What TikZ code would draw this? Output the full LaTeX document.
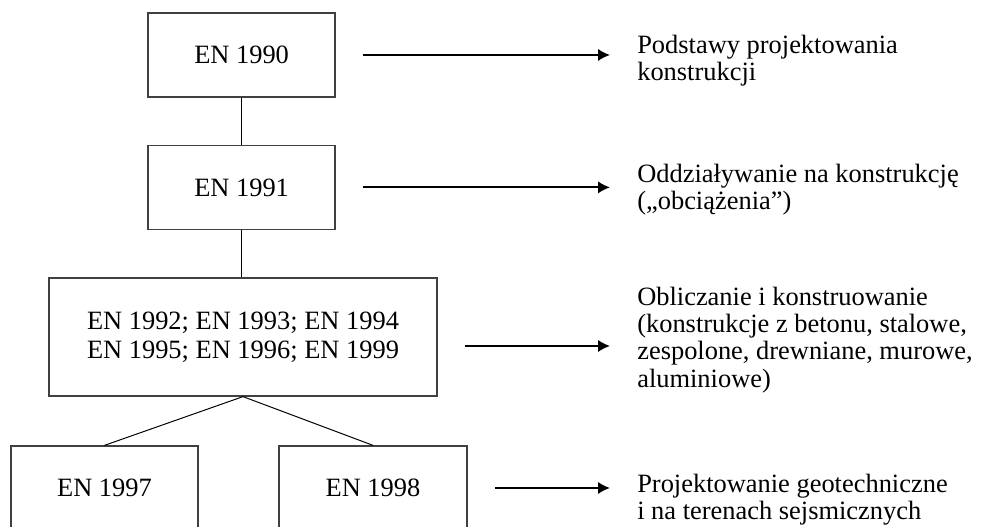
\documentclass[tikz,border=0pt]{standalone}
\usepackage{fontspec}
\setmainfont{Liberation Serif}
\usepackage{tikz}
\usetikzlibrary{arrows.meta}
\newcommand\tekstfont[1]{\fontsize{18.8}{#1}\selectfont}

\begin{document}
\begin{tikzpicture}[
    enbox/.style={draw=black!75,line width=0.9pt,minimum width=4.675cm,minimum height=2.1cm,inner sep=0pt,align=center,font=\tekstfont{20.5}},
    opis/.style={anchor=north west,inner sep=0pt,align=left,font=\tekstfont{19.4}},
    arr/.style={line width=1.4pt,-{Latex[length=3mm,width=3.1mm]},shorten <=0.675cm,shorten >=0.675cm},
    link/.style={line width=0.7pt}]
\useasboundingbox (0,0) rectangle (24.525,13.175);

\node[enbox] (en90) at (6.04,11.8) {EN 1990};
\node[enbox] (en91) at (6.04,8.49) {EN 1991};
\node[enbox,minimum width=9.7cm,minimum height=2.95cm] (en92) at (6.075,4.75) {EN 1992; EN 1993; EN 1994\\EN 1995; EN 1996; EN 1999};
\node[enbox] (en97) at (2.6125,0.975) {EN 1997};
\node[enbox,minimum width=4.7cm] (en98) at (9.325,0.975) {EN 1998};

\node[opis] (opis90) at (15.925,12.305) {Podstawy projektowania\\konstrukcji};
\node[opis] (opis91) at (15.925,9.08) {Oddziaływanie na konstrukcję\\(„obciążenia”)};
\node[opis] (opis92) at (15.925,6.005) {Obliczanie i konstruowanie\\(konstrukcje z betonu, stalowe,\\zespolone, drewniane, murowe,\\aluminiowe)};
\node[opis] (opis98) at (15.925,1.33) {Projektowanie geotechniczne\\i na terenach sejsmicznych};

\draw[link] (en90) -- (en91);
\draw[link] (en91.south) -- (en91.south |- en92.north);
\draw[link] (en92.south) -- (en97.north);
\draw[link] (en92.south) -- (en98.north);

\draw[arr] (en90.east) -- (en90.east -| opis90.west);
\draw[arr] (en91.east) -- (en91.east -| opis91.west);
\draw[arr] ([yshift=-0.225cm]en92.east) -- ([yshift=-0.225cm]en92.east -| opis92.west);
\draw[arr] (en98.east) -- (en98.east -| opis98.west);
\end{tikzpicture}
\end{document}
